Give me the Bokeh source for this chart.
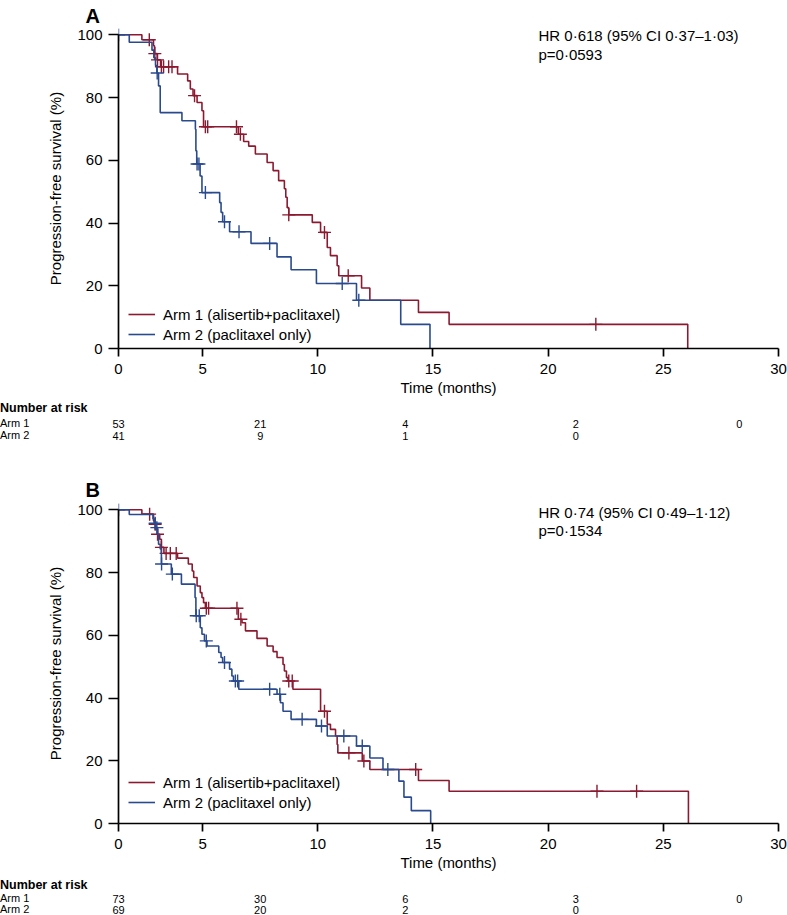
import numpy as np
from bokeh.plotting import figure
from bokeh.models import Range1d, FixedTicker, Legend, LegendItem, Label, Div
from bokeh.layouts import column, row
from bokeh.core.properties import value
from bokeh.embed import file_html
from bokeh.resources import INLINE

FONT = "Liberation Sans"
RED = "#8B1A31"
BLUE = "#2A4A8E"

x_ticks = [0, 5, 10, 15, 20, 25, 30]
y_ticks = [0, 20, 40, 60, 80, 100]
legend_labels = ["Arm 1 (alisertib+paclitaxel)", "Arm 2 (paclitaxel only)"]
risk_times = [0, 7.5, 13.8, 21.2, 28.3]

# ---------------- Panel A ----------------
a_arm1_t = [0, 1.39, 2.08, 2.14, 2.30, 2.50, 3.51, 4.11, 4.27, 4.43, 4.67, 4.96, 5.04,
            6.55, 6.78, 7.00, 7.29, 7.80, 8.06, 8.30, 8.55, 8.61, 8.67, 8.74,
            9.76, 10.12, 10.41, 10.55, 10.84, 10.91, 11.90, 12.26, 14.37, 15.70, 26.06]
a_arm1_s = [100, 98.4, 96.5, 94.0, 92.0, 89.8, 87.5, 85.3, 82.7, 80.6, 78.4, 75.8, 70.7,
            68.3, 66.0, 64.5, 62.0, 59.3, 56.7, 53.5, 50.9, 48.2, 44.9, 42.6,
            40.2, 37.0, 32.2, 29.6, 26.4, 23.2, 19.3, 15.4, 11.5, 7.7, 0]
a_arm1_cens = [1.83, 2.16, 2.32, 2.55, 2.68, 2.98, 3.18, 4.52, 5.12, 5.22, 6.47, 6.64,
               8.74, 10.29, 11.32, 22.07]

a_arm2_t = [0, 0.64, 1.99, 2.10, 2.20, 2.28, 2.38, 2.48, 3.77, 4.57, 4.60, 4.65, 4.85, 4.96,
            5.74, 5.80, 5.87, 6.17, 7.10, 8.23, 8.84, 9.94, 11.68, 13.60, 14.87]
a_arm2_s = [100, 97.6, 95.1, 92.7, 90.2, 87.8, 83.7, 75.2, 72.6, 69.9, 63.0, 58.8, 55.0, 49.7,
            46.5, 43.4, 40.4, 37.2, 33.5, 29.2, 25.1, 20.7, 15.4, 7.7, 0]
a_arm2_cens = [0, 2.30, 4.67, 4.78, 5.12, 5.95, 6.58, 7.91, 11.06, 11.78]

a_risk_arm1 = [53, 21, 4, 2, 0]
a_risk_arm2 = [41, 9, 1, 0]
a_hr = ["HR 0·618 (95% CI 0·37–1·03)", "p=0·0593"]

# ---------------- Panel B ----------------
b_arm1_t = [0, 1.39, 2.08, 2.14, 2.20, 2.32, 2.45, 2.55, 2.70, 3.51, 4.15, 4.38, 4.47, 4.67,
            4.86, 4.96, 5.04, 5.12, 6.55, 6.71, 6.86, 7.36, 7.80, 8.06, 8.23, 8.49, 8.55,
            8.64, 8.71, 8.92, 10.12, 10.41, 10.55, 10.77, 10.84, 10.87, 11.93, 12.26,
            14.37, 15.70, 26.09]
b_arm1_s = [100, 98.6, 96.5, 95.4, 93.8, 92.2, 90.6, 88.0, 86.1, 84.6, 82.7, 80.5, 78.4, 75.7,
            73.6, 72.0, 70.4, 68.6, 65.1, 64.0, 61.4, 59.0, 56.6, 54.8, 52.9, 50.7, 48.6,
            46.5, 45.4, 42.8, 35.8, 31.6, 30.0, 27.9, 25.2, 22.5, 19.9, 17.2,
            13.7, 10.3, 0]
b_arm1_cens = [1.85, 2.18, 2.32, 2.55, 2.83, 3.08, 3.43, 5.16, 5.26, 6.49, 6.66, 8.74, 8.89,
               10.29, 11.35, 12.00, 14.25, 22.12, 23.84]

b_arm2_t = [0, 0.64, 2.05, 2.12, 2.22, 2.32, 2.38, 2.48, 2.55, 3.14, 3.74, 4.55, 4.60, 4.86,
            4.96, 5.08, 5.19, 5.70, 5.80, 5.87, 6.17, 6.27, 6.34, 6.57, 8.23, 8.38, 8.49,
            8.84, 9.94, 10.41, 11.68, 12.26, 12.83, 13.52, 13.74, 14.06, 14.90]
b_arm2_s = [100, 98.5, 97.1, 95.7, 94.3, 92.2, 89.0, 87.5, 82.7, 79.5, 76.3, 72.0, 66.2, 62.4,
            60.3, 58.2, 56.6, 54.5, 52.9, 51.3, 49.2, 47.0, 45.4, 42.8, 41.2, 38.5, 35.8,
            33.2, 31.1, 27.9, 24.7, 20.9, 17.2, 13.5, 8.4, 4.1, 0]
b_arm2_cens = [0, 2.18, 2.28, 2.56, 3.20, 4.62, 4.80, 5.16, 5.95, 6.42, 6.52, 7.91, 8.35,
               9.32, 10.16, 11.13, 11.93, 13.04]

b_risk_arm1 = [73, 30, 6, 3, 0]
b_risk_arm2 = [69, 20, 2, 0]
b_hr = ["HR 0·74 (95% CI 0·49–1·12)", "p=0·1534"]

# The reference draws its first 5-month interval shorter than the later ones;
# this axis mapping reproduces that (ticks keep their month labels).
FIRST_SEG = 84.0 / 115.0


def ax(t):
    t = np.asarray(t, dtype=float)
    return np.where(t <= 5, t * FIRST_SEG, 5 * FIRST_SEG + (t - 5))


TICK_POS = [round(float(v), 4) for v in ax(x_ticks)]
XMAX = TICK_POS[-1]
YTOP = 102
FW, FH = 660, 320
LEFT, RIGHT = 118, 9
PPU = FW / XMAX          # pixels per axis unit
TABLE_PAD = 18           # table frame starts this many px left of the curve frame


def surv_at(times, surv, ct):
    times = np.asarray(times, float)
    idx = np.searchsorted(times, np.asarray(ct, float), side="right") - 1
    return np.asarray(surv, float)[idx]


def km_panel(letter, arm1, arm2, hr_lines, hr_dy, legend_y, top, title_standoff):
    p = figure(frame_width=FW, frame_height=FH, x_range=Range1d(0, XMAX),
               y_range=Range1d(0, YTOP), output_backend="svg", toolbar_location=None,
               min_border_left=LEFT, min_border_right=RIGHT, min_border_top=top,
               min_border_bottom=52)
    p.outline_line_color = None
    p.grid.visible = False
    p.background_fill_color = "white"
    p.border_fill_color = "white"

    p.title.text = letter
    p.title.align = "left"
    p.title.offset = -33
    p.title.standoff = title_standoff
    p.title.vertical_align = "top"
    p.title.text_font = FONT
    p.title.text_font_size = "20px"
    p.title.text_font_style = "bold"
    p.title.text_color = "black"

    renderers = []
    for (t, s, c), col in ((arm1, RED), (arm2, BLUE)):
        r = p.step(ax(t), s, mode="after", line_color=col, line_width=1.6)
        p.scatter(ax(c), surv_at(t, s, c), marker="cross", size=13,
                  line_color=col, line_width=1.4)
        renderers.append(r)

    p.xaxis.ticker = FixedTicker(ticks=TICK_POS)
    p.xaxis.major_label_overrides = {tp: str(t) for tp, t in zip(TICK_POS, x_ticks)}
    p.yaxis.ticker = FixedTicker(ticks=y_ticks)
    p.yaxis.bounds = (0, 100)

    for a in (p.xaxis[0], p.yaxis[0]):
        a.axis_line_width = 1.7
        a.axis_line_color = "black"
        a.major_tick_line_width = 1.7
        a.major_tick_line_color = "black"
        a.major_tick_in = 0
        a.minor_tick_line_color = None
        a.major_label_text_font = FONT
        a.major_label_text_font_size = "15px"
        a.major_label_text_color = "black"
        a.axis_label_text_font = FONT
        a.axis_label_text_font_size = "15px"
        a.axis_label_text_font_style = "normal"
        a.axis_label_text_color = "black"
    p.xaxis.major_tick_out = 8
    p.xaxis.major_label_standoff = 7
    p.xaxis.axis_label = "Time (months)"
    p.xaxis.axis_label_standoff = 2
    p.yaxis.major_tick_out = 10
    p.yaxis.major_label_standoff = 6
    p.yaxis.axis_label = "Progression-free survival (%)"
    p.yaxis.axis_label_standoff = 10

    legend = Legend(items=[LegendItem(label=legend_labels[0], renderers=[renderers[0]]),
                           LegendItem(label=legend_labels[1], renderers=[renderers[1]])],
                    location=(10, legend_y), margin=0, padding=0, spacing=0,
                    label_height=20, glyph_height=20, glyph_width=27, label_standoff=8,
                    label_text_font=FONT, label_text_font_size="15px",
                    label_text_color="black", border_line_alpha=0,
                    background_fill_alpha=0)
    p.add_layout(legend)

    for line, dy in zip(hr_lines, hr_dy):
        p.add_layout(Label(x=0, y=100, x_offset=420, y_offset=dy, text=line,
                           text_font=FONT, text_font_size="15px", text_align="left",
                           text_baseline="middle", text_color="black"))
    return p


def risk_table(n1, n2, rows_y, height):
    div_w = LEFT - TABLE_PAD
    html = (f'<div style="position:relative;width:{div_w}px;height:{height}px;'
            f"font-family:'{FONT}';color:#000;\">")
    html += (f'<span style="position:absolute;left:0;top:{rows_y[0] - 8}px;font-size:12.5px;'
             f'font-weight:bold;line-height:16px;white-space:nowrap;">Number at risk</span>')
    for lab, y in (("Arm 1", rows_y[1]), ("Arm 2", rows_y[2])):
        html += (f'<span style="position:absolute;left:0;top:{y - 7}px;font-size:11px;'
                 f'line-height:14px;white-space:nowrap;">{lab}</span>')
    html += "</div>"
    labels = Div(text=html, width=div_w, height=height, margin=0)

    t = figure(frame_width=FW + TABLE_PAD, frame_height=height,
               x_range=Range1d(-TABLE_PAD / PPU, XMAX),
               y_range=Range1d(height, 0), output_backend="svg", toolbar_location=None,
               min_border_left=0, min_border_right=RIGHT, min_border_top=0,
               min_border_bottom=0, x_axis_location=None, y_axis_location=None)
    t.outline_line_color = None
    t.grid.visible = False
    xs1 = ax(risk_times[:len(n1)])
    xs2 = ax(risk_times[:len(n2)])
    t.text(x=xs1, y=[rows_y[1]] * len(n1), text=[str(v) for v in n1], text_font=value(FONT),
           text_font_size="11px", text_align="center", text_baseline="middle",
           text_color="black")
    t.text(x=xs2, y=[rows_y[2]] * len(n2), text=[str(v) for v in n2], text_font=value(FONT),
           text_font_size="11px", text_align="center", text_baseline="middle",
           text_color="black")
    return row(labels, t, spacing=0)


pA = km_panel("A", (a_arm1_t, a_arm1_s, a_arm1_cens), (a_arm2_t, a_arm2_s, a_arm2_cens),
              a_hr, [-1, -19.3], 4, 28, 0)
tA = risk_table(a_risk_arm1, a_risk_arm2, [8, 23, 35], 48)
pB = km_panel("B", (b_arm1_t, b_arm1_s, b_arm1_cens), (b_arm2_t, b_arm2_s, b_arm2_cens),
              b_hr, [-3, -21], 11, 55, 2)
tB = risk_table(b_risk_arm1, b_risk_arm2, [10, 23, 34], 40)

layout = column(pA, tA, pB, tB, spacing=0)
open("out.html", "w").write(file_html(layout, INLINE))
